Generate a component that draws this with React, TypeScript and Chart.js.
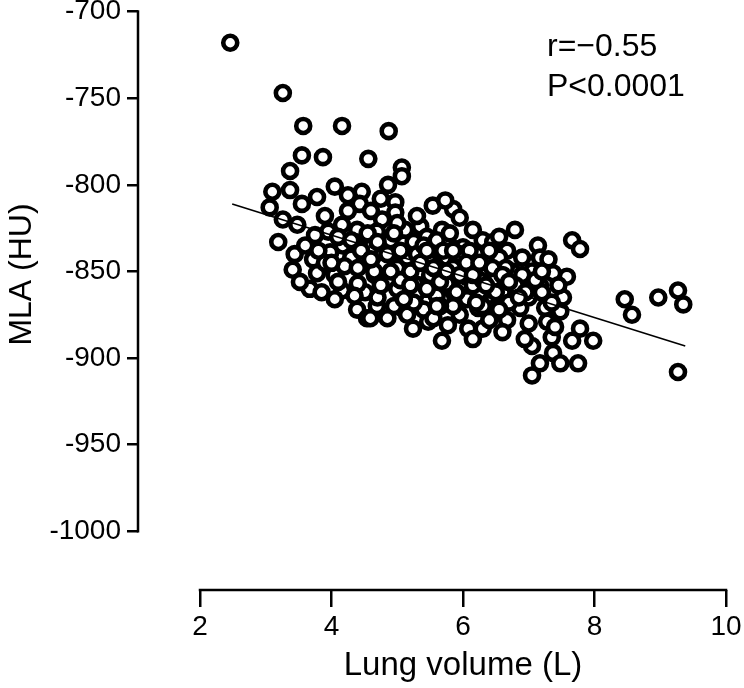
import React, { useEffect, useRef } from "react";
import { Chart, registerables } from "chart.js";

Chart.register(...registerables);

// Lung volume (L) for each subject
const lungVolume = [
  2.46, 3.26, 3.57, 4.16, 4.87, 3.55, 3.87, 4.56, 5.07, 5.07,
  4.86, 3.37, 3.10, 3.37, 3.06, 3.55, 3.78, 4.05, 4.25, 4.46,
  4.43, 3.26, 3.48, 3.95, 4.16, 4.39, 3.75, 3.19, 3.98, 4.17,
  4.36, 3.44, 3.72, 3.41, 3.78, 3.67, 4.05, 4.16, 4.05, 4.39,
  4.54, 4.51, 3.52, 4.97, 4.97, 4.77, 5.54, 5.85, 5.73, 5.95,
  5.35, 5.68, 5.12, 4.69, 6.30, 5.88, 5.38, 5.07, 4.71, 6.08,
  5.62, 4.66, 5.15, 4.89, 5.27, 5.47, 5.68, 5.85, 6.06, 4.69,
  5.07, 5.95, 6.21, 6.33, 6.23, 5.77, 5.47, 5.24, 5.68, 6.08,
  6.15, 6.30, 4.59, 6.61, 6.87, 7.17, 7.37, 7.58, 7.52, 7.25,
  7.48, 6.87, 6.67, 6.49, 7.28, 7.78, 7.98, 7.66, 7.05, 7.35,
  6.94, 7.37, 7.75, 7.48, 7.17, 7.05, 6.79, 7.14, 7.17, 6.90,
  6.67, 6.46, 7.66, 7.78, 8.46, 8.57, 8.97, 9.27, 9.35, 9.27,
  4.50, 4.60, 4.80, 4.90, 5.00, 5.00, 5.10, 5.20, 5.25, 5.30,
  5.35, 5.45, 5.50, 5.55, 5.60, 5.65, 5.75, 5.80, 5.80, 5.90,
  6.00, 6.00, 6.10, 6.20, 6.25, 6.40, 6.45, 6.55, 6.60, 6.75,
  4.30, 4.25, 4.60, 4.75, 4.40, 4.20, 3.90, 3.60, 3.90, 4.70,
  4.95, 5.15, 5.40, 5.95, 6.40, 6.70, 7.00, 7.05, 7.30, 7.45,
  5.30, 5.00, 6.15, 6.55, 7.00, 7.40, 6.60, 5.55, 4.85, 3.85,
  4.10, 5.85, 6.30, 7.20, 6.90, 4.45, 4.55, 4.65, 4.75, 4.85,
  4.95, 5.05, 5.15, 5.20, 5.30, 5.40, 5.45, 5.50, 5.60, 5.65,
  5.70, 5.75, 5.85, 5.90, 5.95, 6.05, 6.10, 6.15, 6.20, 6.30,
  6.35, 6.40, 6.50, 6.55, 6.65, 6.80, 6.95, 7.10, 7.20, 7.35,
  4.00, 4.10, 3.80, 4.35, 5.25, 4.60, 4.70, 4.90, 5.05, 5.20,
  5.35, 5.45, 5.55, 5.65, 5.75, 5.85, 5.95, 6.05, 6.15, 6.25,
  6.35, 6.45, 6.60, 6.70, 6.85, 5.10, 5.60, 6.20, 4.40, 4.30,
];

// Mean lung attenuation (HU) for each subject
const mla = [
  -718, -747, -766, -766, -769, -783, -784, -785, -790, -795,
  -800, -792, -804, -803, -813, -811, -807, -801, -806, -804,
  -811, -820, -823, -827, -823, -826, -829, -833, -839, -835,
  -833, -840, -843, -849, -851, -860, -852, -861, -866, -872,
  -877, -862, -856, -810, -816, -820, -812, -814, -809, -819,
  -824, -826, -826, -827, -832, -837, -843, -840, -839, -843,
  -837, -852, -850, -856, -857, -866, -866, -859, -866, -870,
  -871, -851, -853, -861, -871, -881, -879, -883, -890, -883,
  -889, -883, -877, -850, -859, -858, -851, -853, -865, -871,
  -873, -871, -878, -871, -879, -883, -890, -890, -893, -888,
  -889, -897, -903, -903, -903, -910, -826, -835, -842, -842,
  -838, -833, -832, -837, -866, -875, -865, -861, -869, -908,
  -845, -836, -846, -832, -848, -860, -834, -845, -833, -862,
  -850, -830, -845, -855, -864, -847, -842, -852, -828, -845,
  -836, -858, -848, -840, -862, -845, -855, -842, -862, -850,
  -842, -815, -815, -808, -857, -847, -818, -835, -845, -865,
  -870, -875, -872, -875, -878, -868, -865, -850, -843, -858,
  -818, -822, -826, -830, -880, -882, -885, -877, -877, -862,
  -830, -870, -870, -862, -852, -838, -828, -850, -858, -840,
  -828, -855, -842, -858, -840, -835, -860, -852, -832, -870,
  -838, -857, -848, -862, -840, -853, -838, -858, -850, -855,
  -848, -838, -862, -872, -848, -858, -862, -855, -850, -868,
  -845, -856, -838, -864, -868, -843, -833, -850, -838, -850,
  -845, -838, -848, -856, -850, -838, -852, -845, -852, -845,
  -858, -848, -852, -856, -865, -866, -870, -868, -848, -832,
];

// Regression line end points
const fitX = [2.49, 9.38];
const fitY = [-811, -893];

const xTicks = [2, 4, 6, 8, 10];
const yTicks = [-700, -750, -800, -850, -900, -950, -1000];
const xTitle = "Lung volume (L)";
const yTitle = "MLA (HU)";
const statLines = ["r=\u22120.55", "P<0.0001"];

const FONT = "'Liberation Sans', Arial, Helvetica, sans-serif";

export default function App() {
  const ref = useRef<HTMLCanvasElement>(null);

  useEffect(() => {
    document.body.style.margin = "0";
    const canvas = ref.current;
    if (!canvas) return;

    const points = lungVolume.map((v, i) => ({ x: v, y: mla[i] }));
    const fit = fitX.map((v, i) => ({ x: v, y: fitY[i] }));

    const decorPlugin = {
      id: "decor",
      afterDraw(chart: any) {
        const { ctx, scales } = chart;
        const x = scales.x;
        const y = scales.y;
        const left = chart.chartArea.left;
        const bottom = chart.chartArea.bottom;
        ctx.save();
        ctx.strokeStyle = "#000";
        ctx.lineWidth = 2.5;
        ctx.lineCap = "butt";
        // y axis line
        ctx.beginPath();
        ctx.moveTo(left, y.getPixelForValue(yTicks[0]) - 1.25);
        ctx.lineTo(left, y.getPixelForValue(yTicks[yTicks.length - 1]) + 1.25);
        ctx.stroke();
        // x axis line
        ctx.beginPath();
        ctx.moveTo(x.getPixelForValue(xTicks[0]) - 1.25, bottom);
        ctx.lineTo(x.getPixelForValue(xTicks[xTicks.length - 1]) + 1.25, bottom);
        ctx.stroke();

        ctx.fillStyle = "#000";
        // x title
        ctx.font = `33px ${FONT}`;
        ctx.textAlign = "center";
        ctx.textBaseline = "middle";
        const xc = (x.getPixelForValue(xTicks[0]) + x.getPixelForValue(xTicks[xTicks.length - 1])) / 2;
        ctx.fillText(xTitle, xc, 666);
        // y title
        const yc = (y.getPixelForValue(yTicks[0]) + y.getPixelForValue(yTicks[yTicks.length - 1])) / 2;
        ctx.save();
        ctx.translate(22, yc + 3);
        ctx.rotate(-Math.PI / 2);
        ctx.font = `32px ${FONT}`;
        ctx.fillText(yTitle, 0, 0);
        ctx.restore();
        // stats
        ctx.font = `32px ${FONT}`;
        ctx.textAlign = "left";
        ctx.fillText(statLines[0], 547, 47);
        ctx.fillText(statLines[1], 547, 87);
        ctx.restore();
      },
    };

    const chart = new Chart(canvas, {
      type: "scatter",
      data: {
        datasets: [
          {
            type: "line",
            data: fit,
            borderColor: "#000",
            borderWidth: 1.6,
            pointRadius: 0,
            fill: false,
            order: 0,
          } as any,
          {
            data: points,
            pointStyle: "circle",
            pointRadius: 7,
            pointBorderWidth: 4.6,
            pointBackgroundColor: "#fff",
            pointBorderColor: "#000",
            pointHoverRadius: 7,
            order: 1,
          },
        ],
      },
      options: {
        animation: false,
        responsive: false,
        events: [],
        layout: { padding: { top: 8, right: 18, left: 0, bottom: 0 } },
        plugins: {
          legend: { display: false },
          tooltip: { enabled: false },
        },
        scales: {
          x: {
            type: "linear",
            min: 10 - 588 / 65.75,
            max: 10,
            border: { display: false },
            grid: {
              drawOnChartArea: false,
              drawTicks: true,
              tickLength: 17,
              color: "#000",
              lineWidth: 2.5,
            },
            ticks: {
              color: "#000",
              font: { family: FONT, size: 28 },
              padding: 3,
              maxRotation: 0,
              autoSkip: false,
              callback: (v: any) => String(v),
            },
            afterBuildTicks: (s: any) => {
              s.ticks = xTicks.map((v) => ({ value: v }));
            },
            afterFit: (s: any) => {
              s.height = 98;
              s.paddingLeft = 0;
              s.paddingRight = 0;
            },
          },
          y: {
            type: "linear",
            min: -700 - 582 / (523 / 300),
            max: -700,
            border: { display: false },
            grid: {
              drawOnChartArea: false,
              drawTicks: true,
              tickLength: 11,
              color: "#000",
              lineWidth: 2.5,
            },
            ticks: {
              color: "#000",
              font: { family: FONT, size: 28 },
              padding: 6,
              autoSkip: false,
              callback: (v: any) => String(v),
            },
            afterBuildTicks: (s: any) => {
              s.ticks = yTicks.map((v) => ({ value: v }));
            },
            afterFit: (s: any) => {
              s.width = 138;
              s.paddingTop = 0;
              s.paddingBottom = 0;
            },
          },
        },
      },
      plugins: [decorPlugin],
    });

    return () => chart.destroy();
  }, []);

  return (
    <div style={{ position: "absolute", left: 0, top: 0, width: 744, height: 688, background: "#fff" }}>
      <canvas ref={ref} width={744} height={688} style={{ display: "block" }} />
    </div>
  );
}
